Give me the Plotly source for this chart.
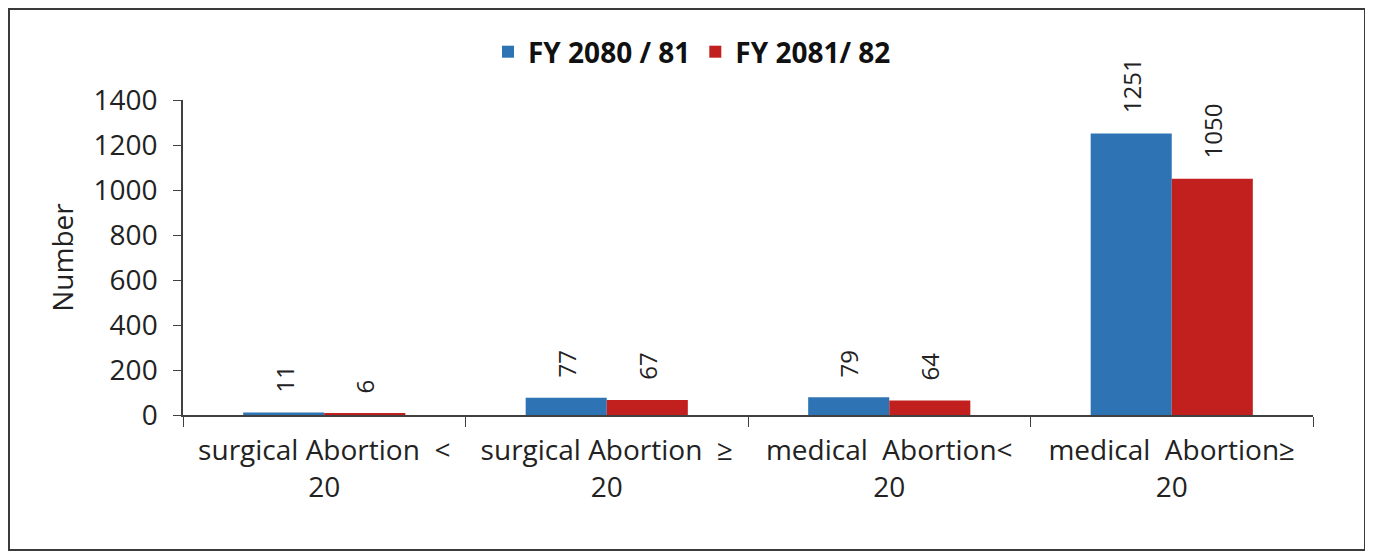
import plotly.graph_objects as go

categories = ["surgical Abortion\u00a0 <<br>20", "surgical Abortion\u00a0 ≥<br>20",
              "medical\u00a0 Abortion<<br>20", "medical\u00a0 Abortion≥<br>20"]
series_names = ["FY 2080 / 81", "FY 2081/ 82"]
fy_2080_81 = [11, 77, 79, 1251]
fy_2081_82 = [6, 67, 64, 1050]
y_ticks = [0, 200, 400, 600, 800, 1000, 1200, 1400]

colors = ["#2E74B5", "#C2201F"]
FONT = "Open Sans"
BAR_W = 0.287

fig = go.Figure()
for name, vals, col, off in [(series_names[0], fy_2080_81, colors[0], -BAR_W),
                             (series_names[1], fy_2081_82, colors[1], 0.0)]:
    fig.add_trace(go.Bar(x=categories, y=vals, name=name, marker_color=col,
                         marker_line_width=0, width=BAR_W, offset=off))

annotations = []
for vals, shift in [(fy_2080_81, -BAR_W / 2), (fy_2081_82, BAR_W / 2)]:
    for i, v in enumerate(vals):
        annotations.append(dict(x=i + shift, y=v, xref="x", yref="y", text=str(v),
                                textangle=-90, showarrow=False, yanchor="bottom",
                                yshift=18, font=dict(family=FONT, size=24, color="#222")))

# page has an 8px body margin; work in figure pixel coordinates
OFF = 8
W, H = 1373 - OFF, 555 - OFF
L, R, T, B = 183 - OFF, 1313 - OFF, 100 - OFF, 415 - OFF

def px_x(p):
    return (p - L) / (R - L)

def px_y(p):
    return (B - p) / (B - T)

fig.update_layout(
    width=W, height=H,
    margin=dict(l=L, r=W - R, t=T, b=H - B),
    paper_bgcolor="white", plot_bgcolor="white",
    barmode="group", bargap=0.426, bargroupgap=0,
    font=dict(family=FONT, size=28, color="#222"),
    showlegend=True,
    legend=dict(orientation="h", x=px_x(692 - OFF), xanchor="center",
                y=px_y(52 - OFF), yanchor="middle",
                font=dict(family=FONT, size=28, color="#111", weight="bold"),
                traceorder="normal"),
    annotations=annotations,
    shapes=[dict(type="rect", xref="paper", yref="paper",
                 x0=px_x(1), x1=px_x(W - 8), y0=px_y(H - 5), y1=px_y(1),
                 line=dict(color="#3a3a3a", width=2), layer="below")],
)
fig.update_xaxes(type="category", showline=True, linecolor="#404040", linewidth=1.5,
                 ticks="outside", tickson="boundaries", ticklen=10, tickcolor="#404040",
                 tickfont=dict(family=FONT, size=28, color="#222"), showgrid=False,
                 ticklabelstandoff=10)
fig.update_yaxes(range=[0, 1400], tickvals=y_ticks, showline=True, linecolor="#404040",
                 linewidth=1.5, ticks="outside", ticklen=8, tickcolor="#404040",
                 tickfont=dict(family=FONT, size=28, color="#222"), showgrid=False,
                 zeroline=False, ticklabelstandoff=10,
                 title=dict(text="Number", font=dict(family=FONT, size=28, color="#222"),
                            standoff=12))

fig.write_html("out.html")
